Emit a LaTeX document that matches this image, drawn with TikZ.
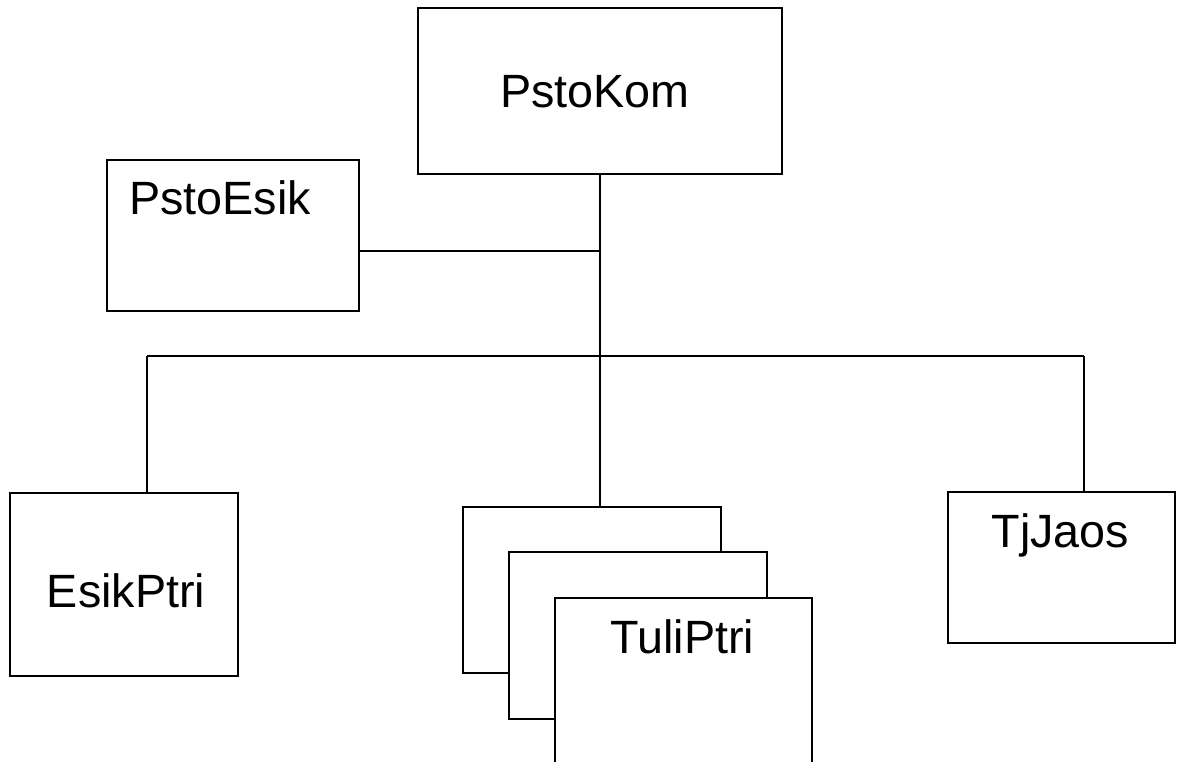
\documentclass[tikz,border=0pt]{standalone}
\usepackage{fontspec}
\setmainfont{Liberation Sans}
\begin{document}
\begin{tikzpicture}[x=1pt,y=-1pt,
  box/.style={draw=black,fill=white,line width=1.5pt,rectangle,inner sep=0pt},
  lbl/.style={anchor=base,inner sep=0pt,font=\fontsize{46.7}{56}\selectfont},
  conn/.style={draw=black,line width=1.5pt}]
\useasboundingbox (0,0) rectangle (1181,762);
% boxes
\node[box,minimum width=364pt,minimum height=166pt] (kom) at (600,91) {};
\node[box,minimum width=252pt,minimum height=151pt] (pesik) at (233,235.5) {};
\node[box,minimum width=228pt,minimum height=183pt] (eptri) at (124,584.5) {};
\node[box,minimum width=227pt,minimum height=151pt] (tjj) at (1061.5,567.5) {};
\coordinate (bl) at (147,356);
\coordinate (br) at (1084,356);
\coordinate (pj) at ([yshift=-15.5pt]pesik.east);
% connectors
\draw[conn] (pj) -- (pj -| kom.south);
\draw[conn] (bl) -- (br);
\draw[conn] (bl) -- (bl |- eptri.north);
\draw[conn] (br) -- (br |- tjj.north);
% stacked boxes
\node[box,minimum width=258pt,minimum height=166pt] (tuli1) at (592,590) {};
\draw[conn] (kom.south) -- (kom.south |- tuli1.north);
\node[box,minimum width=258pt,minimum height=167pt] (tuli2) at (638,635.5) {};
\node[box,minimum width=257pt,minimum height=167pt] (tuli3) at (683.5,681.5) {};
% labels
\node[lbl] (tkom) at (595,108) {PstoKom};
\node[lbl,anchor=base west] (tpesik) at (129,215) {PstoEsik};
\node[lbl] (teptri) at (126,607) {EsikPtri};
\node[lbl] (ttuli) at (682.5,653) {TuliPtri};
\node[lbl] (ttjj) at (1060.5,547) {TjJaos};
\end{tikzpicture}
\end{document}
